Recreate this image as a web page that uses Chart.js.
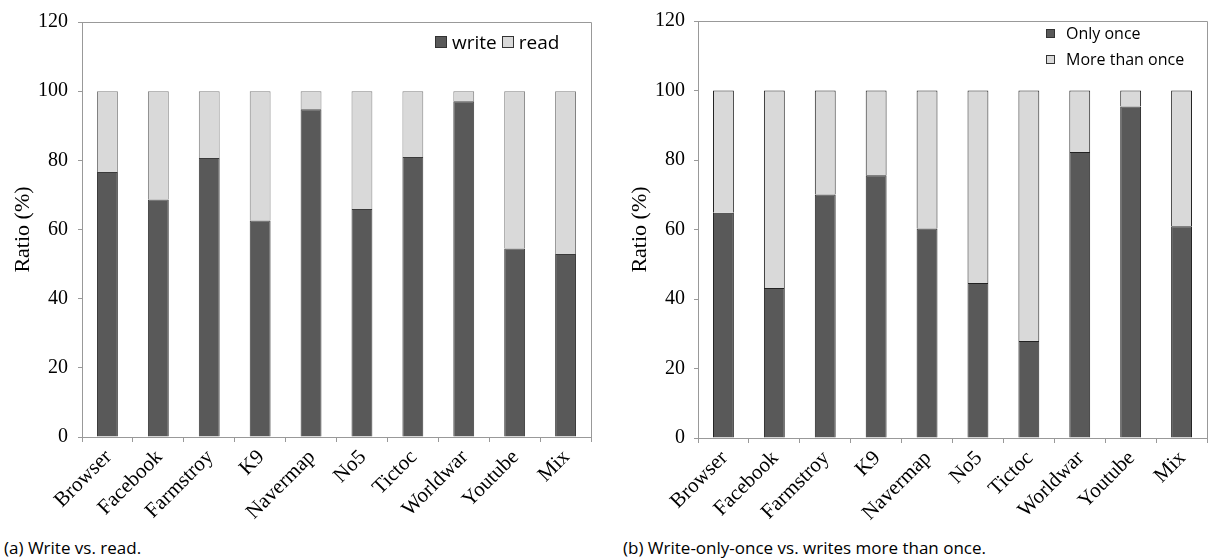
<!DOCTYPE html>
<html lang="en">
<head>
    <meta charset="UTF-8" />
    <title>Write ratios</title>
    <script src="https://cdn.jsdelivr.net/npm/chart.js"></script>
    <style>
        body { margin: 0; background: #fff; width: 1209px; height: 559px; position: relative; overflow: hidden; }
        .wrap { position: absolute; top: 0; height: 530px; }
        .legend { position: absolute; font-family: "Open Sans", sans-serif; color: #000; white-space: nowrap; }
        .legend span.box { display: inline-block; border: 1px solid #333; vertical-align: middle; }
        .caption { position: absolute; top: 536px; font-family: "Open Sans", sans-serif; font-size: 17px; color: #000; white-space: nowrap; }
    </style>
</head>
<body>
    <div class="wrap" style="left:0; width:600px;"><canvas id="chartA" width="600" height="530"></canvas></div>
    <div class="wrap" style="left:600px; width:609px;"><canvas id="chartB" width="609" height="530"></canvas></div>

    <div class="legend" id="legendA" style="left:435px; top:27px; font-size:19px;"></div>
    <div class="legend" id="legendB" style="left:1046px; top:20px; font-size:16px; line-height:25px;"></div>

    <div class="caption" style="left:4px;">(a) Write vs. read.</div>
    <div class="caption" style="left:623px;">(b) Write-only-once vs. writes more than once.</div>

    <script>
        const categories = ['Browser', 'Facebook', 'Farmstroy', 'K9', 'Navermap', 'No5', 'Tictoc', 'Worldwar', 'Youtube', 'Mix'];

        // (a) write vs read, %
        const writeRatio = [76.6, 68.7, 80.7, 62.6, 94.8, 65.9, 81.0, 97.1, 54.5, 52.9];
        const readRatio  = [23.4, 31.3, 19.3, 37.4, 5.2, 34.1, 19.0, 2.9, 45.5, 47.1];

        // (b) write-only-once vs more than once, %
        const onlyOnce     = [64.8, 43.2, 70.1, 75.6, 60.3, 44.6, 27.9, 82.3, 95.4, 60.9];
        const moreThanOnce = [35.2, 56.8, 29.9, 24.4, 39.7, 55.4, 72.1, 17.7, 4.6, 39.1];

        const yTicks = [0, 20, 40, 60, 80, 100, 120];

        const DARK = '#595959';
        const LIGHT = '#d9d9d9';
        const AXIS = '#999999';

        // top + right edge of the plot box
        const frame = {
            id: 'frame',
            afterDraw(chart) {
                const a = chart.chartArea;
                const c = chart.ctx;
                c.save();
                c.strokeStyle = AXIS;
                c.lineWidth = 1;
                c.beginPath();
                c.moveTo(a.left, a.top + 0.5);
                c.lineTo(a.right + 0.5, a.top + 0.5);
                c.lineTo(a.right + 0.5, a.bottom);
                c.stroke();
                c.restore();
            }
        };

        function makeChart(id, sets, opt) {
            return new Chart(document.getElementById(id).getContext('2d'), {
                type: 'bar',
                data: { labels: categories, datasets: sets },
                options: {
                    responsive: false,
                    animation: false,
                    layout: { padding: { top: opt.top, right: opt.right, left: opt.left, bottom: 0 } },
                    plugins: { legend: { display: false }, tooltip: { enabled: false } },
                    datasets: { bar: { categoryPercentage: 1, barPercentage: 0.41, borderWidth: 1 } },
                    scales: {
                        x: {
                            stacked: true,
                            afterFit: s => { s.height = opt.xh; },
                            border: { color: AXIS },
                            grid: { drawOnChartArea: false, color: AXIS, tickLength: 5, offset: true },
                            ticks: {
                                color: '#000', maxRotation: 45, minRotation: 45, padding: 3, labelOffset: 1,
                                font: { family: 'Liberation Serif', size: 21 }
                            }
                        },
                        y: {
                            stacked: true,
                            min: yTicks[0], max: yTicks[yTicks.length - 1],
                            afterFit: s => { s.width = opt.yw; },
                            afterBuildTicks: s => { s.ticks = yTicks.map(v => ({ value: v })); },
                            border: { color: AXIS },
                            grid: { drawOnChartArea: false, color: AXIS, tickLength: 4 },
                            ticks: { color: '#000', padding: opt.tp, font: { family: 'Liberation Serif', size: 20 } },
                            title: {
                                display: true, text: 'Ratio (%)', color: '#000',
                                padding: { top: 10, bottom: 0 },
                                font: { family: 'Liberation Serif', size: 22 }
                            }
                        }
                    }
                },
                plugins: [frame]
            });
        }

        const setsA = [
            { label: 'write', data: writeRatio, backgroundColor: DARK, borderColor: '#3a3a3a' },
            { label: 'read', data: readRatio, backgroundColor: LIGHT, borderColor: '#808080' }
        ];
        const setsB = [
            { label: 'Only once', data: onlyOnce, backgroundColor: DARK, borderColor: '#222' },
            { label: 'More than once', data: moreThanOnce, backgroundColor: LIGHT, borderColor: '#222' }
        ];

        makeChart('chartA', setsA, { top: 15, right: 9, left: 0, xh: 93, yw: 82, tp: 10 });
        makeChart('chartB', setsB, { top: 16, right: 2, left: 17, xh: 92, yw: 81, tp: 9 });

        // legends built from the dataset definitions
        function legend(el, sets, size, inline) {
            el.innerHTML = sets.map(d =>
                '<div style="display:' + (inline ? 'inline-block' : 'block') + '; margin-right:' + (inline ? '5px' : '0') + ';">' +
                '<span class="box" style="width:' + size + 'px;height:' + size + 'px;background:' + d.backgroundColor + ';margin-right:' + (inline ? 5 : 11) + 'px;"></span>' +
                '<span style="vertical-align:middle;">' + d.label + '</span></div>'
            ).join('');
        }
        legend(document.getElementById('legendA'), setsA, 10, true);
        legend(document.getElementById('legendB'), setsB, 7, false);
    </script>
</body>
</html>
